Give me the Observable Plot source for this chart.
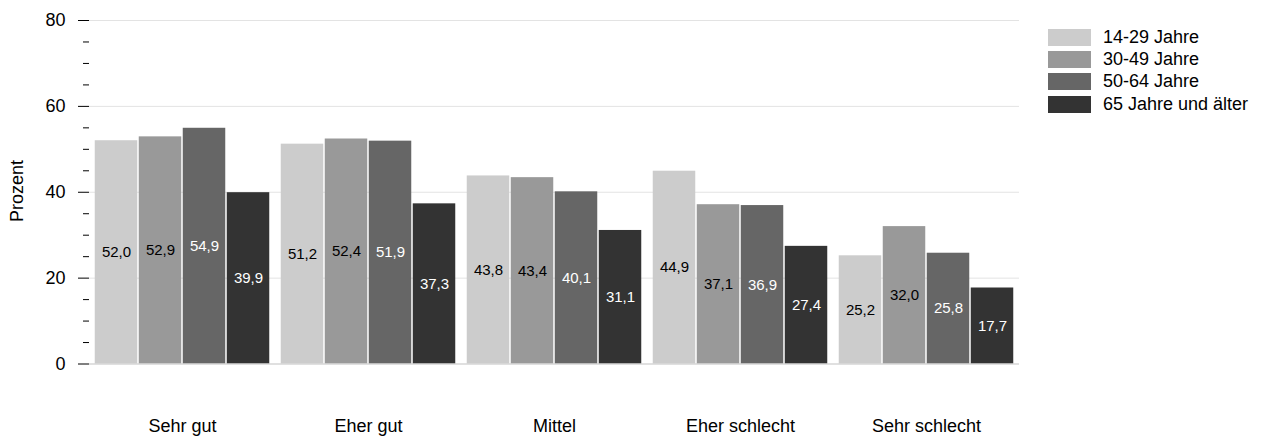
<!DOCTYPE html>
<html>
<head>
<meta charset="utf-8">
<script src="https://cdn.jsdelivr.net/npm/d3@7"></script>
<script src="https://cdn.jsdelivr.net/npm/@observablehq/plot@0.6"></script>
<style>
  html, body { margin: 0; padding: 0; background: #fff; }
  #wrap { position: relative; width: 1266px; height: 439px; font-family: "Liberation Sans", Arial, sans-serif; }
  #legend { position: absolute; left: 1048px; top: 26px; }
  .row { display: flex; align-items: center; height: 22.3px; }
  .sw { width: 43px; height: 17px; margin-right: 12px; }
  .lab { font-size: 18px; color: #000; white-space: nowrap; }
  #ylab { position: absolute; left: 17px; top: 191px; transform: translate(-50%, -50%) rotate(-90deg); font-size: 18px; white-space: nowrap; }
</style>
</head>
<body>
<div id="wrap"></div>
<script>
const categories = ["Sehr gut", "Eher gut", "Mittel", "Eher schlecht", "Sehr schlecht"];
const ages = ["14-29 Jahre", "30-49 Jahre", "50-64 Jahre", "65 Jahre und älter"];
const v14_29 = [52.0, 51.2, 43.8, 44.9, 25.2];
const v30_49 = [52.9, 52.4, 43.4, 37.1, 32.0];
const v50_64 = [54.9, 51.9, 40.1, 36.9, 25.8];
const v65plus = [39.9, 37.3, 31.1, 27.4, 17.7];
const colors = ["#cccccc", "#999999", "#666666", "#333333"];
const labelColors = ["#000000", "#000000", "#ffffff", "#ffffff"];
const yTicks = [0, 20, 40, 60, 80];
const yMinorTicks = [5, 10, 15, 25, 30, 35, 45, 50, 55, 65, 70, 75];

const series = [v14_29, v30_49, v50_64, v65plus];
const data = [];
categories.forEach((c, i) => {
  ages.forEach((a, j) => data.push({category: c, age: a, value: series[j][i]}));
});
const fmt = v => v.toFixed(1).replace(".", ",");

const chart = Plot.plot({
  width: 1266,
  height: 439,
  marginLeft: 87,
  marginRight: 245,
  marginTop: 20,
  marginBottom: 75.5,
  style: {fontFamily: '"Liberation Sans", Arial, sans-serif', fontSize: "18px", color: "#000", background: "#fff"},
  fx: {domain: categories, padding: 0, label: null},
  x: {domain: ages, axis: null, insetLeft: 5, insetRight: 5, padding: 0},
  y: {domain: [0, 80], label: null},
  color: {domain: ages, range: colors},
  marks: [
    Plot.gridY(yTicks, {stroke: "#e3e3e3", strokeOpacity: 1}),
    Plot.barY(data, {fx: "category", x: "age", y: "value", fill: "age", insetLeft: 0.75, insetRight: 0.75}),
    Plot.ruleY([0], {stroke: "#cfcfcf"}),
    Plot.text(data, {fx: "category", x: "age", y: d => d.value / 2, text: d => fmt(d.value),
      fill: d => labelColors[ages.indexOf(d.age)], fontSize: 15}),
    Plot.axisY({ticks: yTicks, tickSize: 11, tickPadding: 13, fontSize: 18, label: null, stroke: "#000"}),
    Plot.axisY({ticks: yMinorTicks, tickSize: 6, text: null, label: null}),
    Plot.axisFx({anchor: "bottom", tickSize: 0, tickPadding: 55, fontSize: 18, label: null})
  ]
});

const wrap = document.getElementById("wrap");
wrap.appendChild(chart);

const ylab = document.createElement("div");
ylab.id = "ylab";
ylab.textContent = "Prozent";
wrap.appendChild(ylab);

const legend = document.createElement("div");
legend.id = "legend";
ages.forEach((a, j) => {
  const row = document.createElement("div");
  row.className = "row";
  const sw = document.createElement("div");
  sw.className = "sw";
  sw.style.background = colors[j];
  const lab = document.createElement("span");
  lab.className = "lab";
  lab.textContent = a;
  row.appendChild(sw);
  row.appendChild(lab);
  legend.appendChild(row);
});
wrap.appendChild(legend);
</script>
</body>
</html>
